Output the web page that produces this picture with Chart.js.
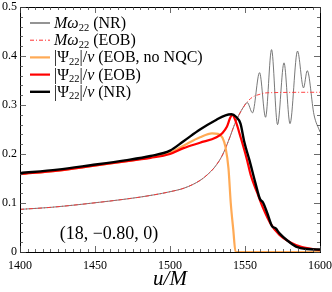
<!DOCTYPE html>
<html>
<head>
<meta charset="utf-8">
<script src="https://cdn.jsdelivr.net/npm/chart.js@4.4.1/dist/chart.umd.min.js"></script>
<style>
  html, body { margin: 0; padding: 0; background: #fff; }
  #wrap { width: 332px; height: 292px; }
</style>
</head>
<body>
<div id="wrap"><canvas id="chart" width="332" height="292"></canvas></div>
<script>
// values (u/M on x)
const ampNR_u = [1400, 1425, 1447, 1470, 1487, 1500, 1509, 1520, 1531, 1537, 1541, 1544, 1547, 1549.5, 1553, 1557, 1560, 1562, 1565, 1568, 1570.5, 1573, 1578, 1584, 1591, 1600];
const ampNR_v = [0.161, 0.168, 0.177, 0.187, 0.196, 0.207, 0.226, 0.25, 0.27, 0.279, 0.281, 0.276, 0.262, 0.225, 0.187, 0.14, 0.108, 0.101, 0.078, 0.053, 0.048, 0.038, 0.024, 0.011, 0.006, 0.005];

const ampEOB_u = [1400, 1425, 1447, 1470, 1487, 1500, 1509, 1520, 1531, 1535, 1538, 1540, 1541.5, 1544, 1547, 1551, 1554, 1558, 1562, 1567, 1573, 1580, 1588, 1600];
const ampEOB_v = [0.159, 0.166, 0.175, 0.185, 0.192, 0.2, 0.212, 0.223, 0.234, 0.243, 0.256, 0.273, 0.28, 0.265, 0.235, 0.192, 0.155, 0.122, 0.09, 0.058, 0.035, 0.02, 0.01, 0.004];

const ampNoNQC_u = [1400, 1425, 1447, 1470, 1487, 1500, 1509, 1520, 1528, 1532, 1535, 1537, 1539, 1540.5, 1542.2, 1543.7, 1600];
const ampNoNQC_v = [0.159, 0.166, 0.175, 0.185, 0.193, 0.203, 0.217, 0.234, 0.242, 0.241, 0.233, 0.214, 0.17, 0.1, 0.045, 0, 0];

const omgEOB_u = [1400, 1420, 1440, 1460, 1480, 1490, 1500, 1510, 1520, 1525, 1530, 1535, 1540, 1543, 1546, 1549, 1552, 1555, 1560, 1565, 1600];
const omgEOB_v = [0.087, 0.091, 0.097, 0.104, 0.112, 0.117, 0.123, 0.131, 0.146, 0.158, 0.174, 0.198, 0.235, 0.26, 0.28, 0.296, 0.308, 0.316, 0.322, 0.325, 0.326];

const omgNR_u = [1400, 1420, 1440, 1460, 1480, 1490, 1500, 1510, 1520, 1525, 1530, 1535, 1540, 1543, 1546, 1549, 1551.5, 1555, 1559.7, 1563.7, 1567.7, 1571.7, 1576, 1580, 1585, 1589, 1591.5, 1596, 1600];
const omgNR_v = [0.087, 0.091, 0.097, 0.104, 0.112, 0.117, 0.123, 0.131, 0.146, 0.158, 0.174, 0.198, 0.235, 0.26, 0.28, 0.296, 0.305, 0.284, 0.366, 0.275, 0.413, 0.26, 0.386, 0.262, 0.41, 0.335, 0.37, 0.28, 0.245];

const xTicks = [1400, 1450, 1500, 1550, 1600];
const yTicks = [0, 0.1, 0.2, 0.3, 0.4, 0.5];
const caseLabel = '(18, \u22120.80, 0)';

const SERIF = '"Liberation Serif", "DejaVu Serif", serif';

function pts(us, vs) {
    return us.map((u, i) => ({ x: u, y: vs[i] }));
}

// legend entries: text pieces as [text, style] with style 'r' roman, 'i' italic, 's' subscript
const legendItems = [
    { color: '#888', width: 1.8, dash: [], parts: [['M', 'i'], ['\u03c9', 'i'], ['22', 's'], [' (NR)', 'r']] },
    { color: '#ff3030', width: 1, dash: [4, 2, 1, 2], parts: [['M', 'i'], ['\u03c9', 'i'], ['22', 's'], [' (EOB)', 'r']] },
    { color: '#ffaa55', width: 2.2, dash: [], parts: [['|\u03a8', 'r'], ['22', 's'], ['|/', 'r'], ['\u03bd', 'i'], [' (EOB, no NQC)', 'r']] },
    { color: '#ff0000', width: 2.2, dash: [], parts: [['|\u03a8', 'r'], ['22', 's'], ['|/', 'r'], ['\u03bd', 'i'], [' (EOB)', 'r']] },
    { color: '#000000', width: 2.4, dash: [], parts: [['|\u03a8', 'r'], ['22', 's'], ['|/', 'r'], ['\u03bd', 'i'], [' (NR)', 'r']] }
];

const framePlugin = {
    id: 'frame',
    afterDraw(chart) {
        const ctx = chart.ctx;
        const a = chart.chartArea;
        const xs = chart.scales.x, ys = chart.scales.y;
        ctx.save();
        ctx.strokeStyle = '#000';
        ctx.lineWidth = 1;
        ctx.strokeRect(a.left + 0.5, a.top + 0.5, a.right - a.left, a.bottom - a.top);

        // inward ticks on all four sides
        ctx.strokeStyle = '#444';
        ctx.lineWidth = 0.8;
        ctx.beginPath();
        for (let u = 1400; u <= 1600; u += 5) {
            const px = Math.round(xs.getPixelForValue(u)) + 0.5;
            const len = (u % 50 === 0) ? 6 : 3;
            ctx.moveTo(px, a.bottom); ctx.lineTo(px, a.bottom - len);
            ctx.moveTo(px, a.top); ctx.lineTo(px, a.top + len);
        }
        for (let k = 0; k <= 25; k++) {
            const py = Math.round(ys.getPixelForValue(k * 0.02)) + 0.5;
            const len = (k % 5 === 0) ? 6 : 3;
            ctx.moveTo(a.left, py); ctx.lineTo(a.left + len, py);
            ctx.moveTo(a.right, py); ctx.lineTo(a.right - len, py);
        }
        ctx.stroke();

        // legend
        let y = 23;
        legendItems.forEach(item => {
            ctx.strokeStyle = item.color;
            ctx.lineWidth = item.width;
            ctx.setLineDash(item.dash);
            ctx.beginPath();
            ctx.moveTo(30, y); ctx.lineTo(50, y);
            ctx.stroke();
            ctx.setLineDash([]);
            let x = 54;
            ctx.fillStyle = '#000';
            ctx.textBaseline = 'alphabetic';
            item.parts.forEach(([t, s]) => {
                if (s === 's') {
                    ctx.font = '10.5px ' + SERIF;
                    ctx.fillText(t, x, y + 7.5);
                } else {
                    ctx.font = (s === 'i' ? 'italic ' : '') + '16px ' + SERIF;
                    ctx.fillText(t, x, y + 5);
                }
                x += ctx.measureText(t).width;
            });
            y += 17.2;
        });

        // case label
        ctx.font = '18px ' + SERIF;
        ctx.textAlign = 'center';
        ctx.fillStyle = '#000';
        ctx.fillText(caseLabel, 109, 239);
        ctx.restore();
    }
};

new Chart(document.getElementById('chart'), {
    type: 'line',
    data: {
        datasets: [
            { data: pts(ampNR_u, ampNR_v), borderColor: '#000000', borderWidth: 2.4 },
            { data: pts(ampEOB_u, ampEOB_v), borderColor: '#ff0000', borderWidth: 2.2 },
            { data: pts(ampNoNQC_u, ampNoNQC_v), borderColor: '#ffaa55', borderWidth: 2.2 },
            { data: pts(omgEOB_u, omgEOB_v), borderColor: '#ff3030', borderWidth: 0.9, borderDash: [4, 2, 1, 2] },
            { data: pts(omgNR_u, omgNR_v), borderColor: '#555555', borderWidth: 0.8 }
        ]
    },
    options: {
        responsive: false,
        animation: false,
        parsing: false,
        layout: { padding: { top: 7, right: 12, left: 0, bottom: 0 } },
        elements: {
            point: { radius: 0 },
            line: { cubicInterpolationMode: 'monotone', fill: false }
        },
        plugins: { legend: { display: false }, tooltip: { enabled: false } },
        scales: {
            x: {
                type: 'linear', min: 1400, max: 1600,
                afterFit: s => { s.height = 40; s.paddingLeft = 0; s.paddingRight = 0; },
                afterBuildTicks: s => { s.ticks = xTicks.map(v => ({ value: v })); },
                grid: { display: false, drawTicks: false },
                border: { display: false },
                ticks: { padding: 7, color: '#000', font: { family: SERIF, size: 12 }, callback: v => String(v), maxRotation: 0 },
                title: { display: true, text: 'u/M', padding: { top: 0, bottom: 0 }, color: '#000', font: { family: SERIF, size: 21, style: 'italic' } }
            },
            y: {
                type: 'linear', min: 0, max: 0.5,
                afterFit: s => { s.width = 20; s.paddingTop = 0; s.paddingBottom = 0; },
                afterBuildTicks: s => { s.ticks = yTicks.map(v => ({ value: v })); },
                grid: { display: false, drawTicks: false },
                border: { display: false },
                ticks: { padding: 3, color: '#000', font: { family: SERIF, size: 12 }, callback: v => String(v) }
            }
        }
    },
    plugins: [framePlugin]
});
</script>
</body>
</html>
